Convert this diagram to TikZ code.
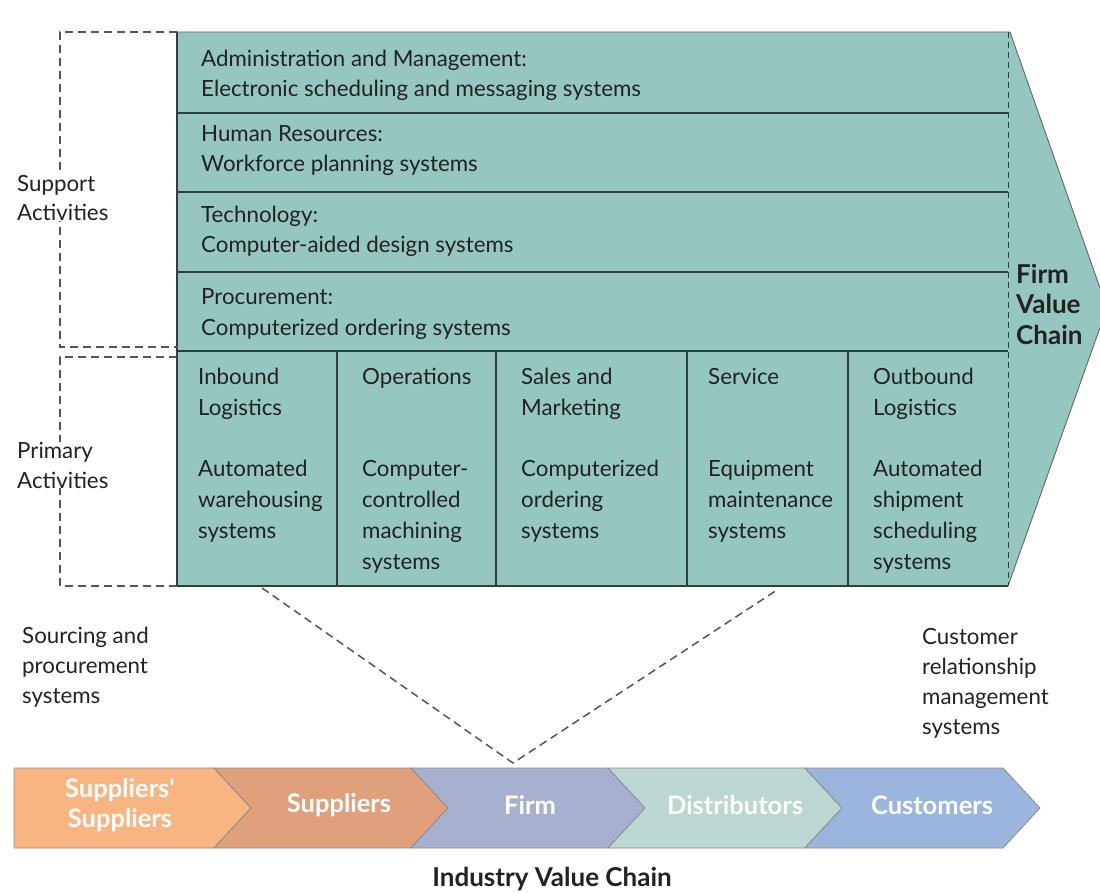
\documentclass[tikz,border=0pt]{standalone}
\usepackage{fontspec}
\setmainfont{Lato}
\definecolor{tealfill}{HTML}{95C6BF}
\definecolor{gridc}{HTML}{2C403E}
\definecolor{dashc}{HTML}{555555}
\definecolor{cA}{HTML}{F8B582}
\definecolor{cB}{HTML}{E0A07C}
\definecolor{cC}{HTML}{A8B0CF}
\definecolor{cD}{HTML}{BCD6D2}
\definecolor{cE}{HTML}{9BB5DE}
\definecolor{txtc}{HTML}{222222}
\begin{document}
\begin{tikzpicture}[x=1pt,y=-1pt,
  txt/.style={anchor=base west,inner sep=0pt,align=left,font=\fontsize{22.3}{30.7}\selectfont,text=txtc},
  side/.style={anchor=base west,inner sep=0pt,align=left,font=\fontsize{22.3}{29.8}\selectfont,text=txtc},
  firmlab/.style={anchor=base west,inner sep=0pt,align=left,font=\bfseries\fontsize{26}{30.5}\selectfont,text=txtc},
  segtxt/.style={inner sep=0pt,align=center,text=white,font=\bfseries\fontsize{25.5}{30}\selectfont},
  segbox/.style={draw=black!45,line width=0.8pt},
  gridline/.style={draw=gridc,line width=1.3pt},
  dsh/.style={draw=dashc,dash pattern=on 8pt off 5pt,line width=1.4pt},
  thindsh/.style={draw=gridc,dash pattern=on 6pt off 4pt,line width=1pt}]
\useasboundingbox (0,0) rectangle (1100,893);
\clip (0,0) rectangle (1100,893);

% main firm value chain arrow
\fill[tealfill] (177,32) -- (1010,32) -- (1107,308) -- (1008,586) -- (177,586) -- cycle;
\draw[draw=black!60,line width=0.9pt] (177,32) -- (1010,32) -- (1107,308) -- (1008,586);
\draw[gridline] (177,32) -- (177,586) -- (1008,586);
\foreach \yy in {113,192,272,351} \draw[gridline] (177,\yy) -- (1008,\yy);
\foreach \xx in {337,496,687,848} \draw[gridline] (\xx,351) -- (\xx,586);
\draw[thindsh] (1008,32) -- (1008,586);

% support activities (anchor = baseline of last line)
\node[txt] (adm) at (201,97) {Administration and Management:\\Electronic scheduling and messaging systems};
\node[txt] (hr) at (201,172) {Human Resources:\\Workforce planning systems};
\node[txt] (tech) at (201,253) {Technology:\\Computer-aided design systems};
\node[txt] (proc) at (201,335) {Procurement:\\Computerized ordering systems};

% primary activities
\node[txt] (inb) at (198,538) {Inbound\\Logistics\\[30.7pt]Automated\\warehousing\\systems};
\node[txt] (ops) at (362,569) {Operations\\[61.4pt]Computer-\\controlled\\machining\\systems};
\node[txt] (sal) at (521,538) {Sales and\\Marketing\\[30.7pt]Computerized\\ordering\\systems};
\node[txt] (srv) at (708,538) {Service\\[61.4pt]Equipment\\maintenance\\systems};
\node[txt] (outb) at (873,569) {Outbound\\Logistics\\[30.7pt]Automated\\shipment\\scheduling\\systems};

\node[firmlab] (fvc) at (1016,344) {Firm\\Value\\Chain};

% dashed brackets
\draw[dsh] (177,32) -- (60,32) -- (60,347) -- (177,347);
\draw[dsh] (177,357) -- (60,357) -- (60,586) -- (177,586);
\node[side,fill=white] (sup) at (17,221) {Support\\Activities};
\node[side,fill=white] (pri) at (17,488) {Primary\\Activities};

\node[side] (src) at (22,703) {Sourcing and\\procurement\\systems};
\node[side] (crm) at (922,734) {Customer\\relationship\\management\\systems};

% industry value chain
\def\ty{768}\def\by{848}\def\my{808}
\fill[cA] (14,\ty) -- (214,\ty) -- (251,\my) -- (214,\by) -- (14,\by) -- cycle;
\draw[segbox] (14,\ty) -- (214,\ty) -- (251,\my) -- (214,\by) -- (14,\by) -- cycle;
\fill[cB] (214,\ty) -- (411,\ty) -- (448,\my) -- (411,\by) -- (214,\by) -- (251,\my) -- cycle;
\draw[segbox] (214,\ty) -- (411,\ty) -- (448,\my) -- (411,\by) -- (214,\by) -- (251,\my) -- cycle;
\fill[cC] (411,\ty) -- (608,\ty) -- (645,\my) -- (608,\by) -- (411,\by) -- (448,\my) -- cycle;
\draw[segbox] (411,\ty) -- (608,\ty) -- (645,\my) -- (608,\by) -- (411,\by) -- (448,\my) -- cycle;
\fill[cD] (608,\ty) -- (805,\ty) -- (842,\my) -- (805,\by) -- (608,\by) -- (645,\my) -- cycle;
\draw[segbox] (608,\ty) -- (805,\ty) -- (842,\my) -- (805,\by) -- (608,\by) -- (645,\my) -- cycle;
\fill[cE] (805,\ty) -- (1003,\ty) -- (1040,\my) -- (1003,\by) -- (805,\by) -- (842,\my) -- cycle;
\draw[segbox] (805,\ty) -- (1003,\ty) -- (1040,\my) -- (1003,\by) -- (805,\by) -- (842,\my) -- cycle;

\node[segtxt] (ss) at (120,805) {Suppliers\textquotesingle\\Suppliers};
\node[segtxt] (su) at (339,805) {Suppliers};
\node[segtxt] (fi) at (530,805) {Firm};
\node[segtxt] (di) at (735,805) {Distributors};
\node[segtxt] (cu) at (932,805) {Customers};

\node[anchor=base,inner sep=0pt,text=txtc,font=\bfseries\fontsize{26}{30}\selectfont] (ivc) at (552,886) {Industry Value Chain};

% expansion lines
\coordinate (pl) at (262,588);
\coordinate (pr) at (777,590);
\coordinate (apex) at (513,763);
\draw[dsh,line width=1.5pt] (pl) -- (apex) -- (pr);
\end{tikzpicture}
\end{document}
